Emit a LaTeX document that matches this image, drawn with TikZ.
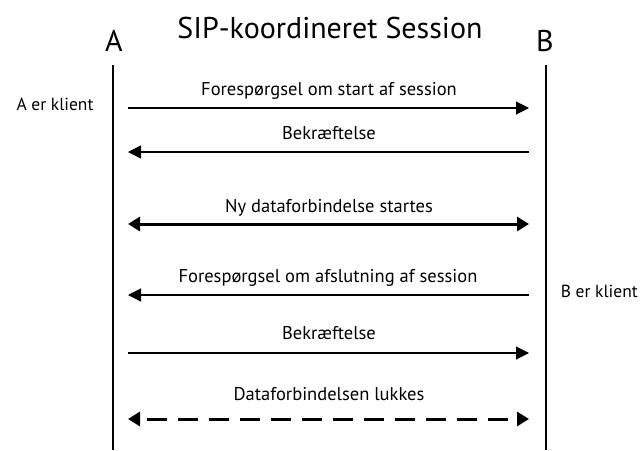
\documentclass[tikz,border=0pt]{standalone}
\usepackage{fontspec}
\setmainfont{PT Sans}
\usetikzlibrary{arrows.meta}
\begin{document}
\begin{tikzpicture}[x=1pt,y=-1pt,
  lifeline/.style={line width=2.2pt},
  msg/.style={line width=1.1pt,-{Triangle[length=13pt,width=13pt]}},
  bigmsg/.style={line width=3pt,{Triangle[length=12pt,width=14pt]}-{Triangle[length=12pt,width=14pt]}},
  lbl/.style={font=\fontsize{18.5}{20}\selectfont,inner sep=0pt,anchor=base},
  note/.style={font=\fontsize{17.5}{19}\selectfont,inner sep=0pt,anchor=base},
  head/.style={font=\fontsize{30}{32}\selectfont,inner sep=0pt,anchor=base}]
\useasboundingbox (0,0) rectangle (640,450);
% title and party names
\node[head] (title) at (330,38) {SIP-koordineret Session};
\node[head] (A) at (114,51) {A};
\node[head] (B) at (545,51) {B};
% lifelines
\coordinate (Atop) at (113,65);
\coordinate (Abot) at (113,450);
\coordinate (Btop) at (546,65);
\coordinate (Bbot) at (546,450);
\draw[lifeline] (Atop) -- (Abot);
\draw[lifeline] (Btop) -- (Bbot);
% side notes
\node[note] (na) at (55,110) {A er klient};
\node[note,anchor=base east] (nb) at (638,297) {B er klient};
% message end points
\foreach \n/\y in {1/108,2/152,3/224,4/295,5/353,6/419}{
  \coordinate (l\n) at (128,\y);
  \coordinate (r\n) at (529,\y);
}
\draw[msg] (l1) -- (r1);
\draw[msg] (r2) -- (l2);
\draw[bigmsg] (l3) -- (r3);
\draw[msg] (r4) -- (l4);
\draw[msg] (l5) -- (r5);
\draw[bigmsg,dash pattern=on 20pt off 11pt,dash phase=-8pt] (l6) -- (r6);
% message labels
\node[lbl] (m1) at (329,95) {Forespørgsel om start af session};
\node[lbl] (m2) at (329,139) {Bekræftelse};
\node[lbl] (m3) at (329,212) {Ny dataforbindelse startes};
\node[lbl] (m4) at (328,282) {Forespørgsel om afslutning af session};
\node[lbl] (m5) at (329,339) {Bekræftelse};
\node[lbl] (m6) at (329,400) {Dataforbindelsen lukkes};
\end{tikzpicture}
\end{document}
